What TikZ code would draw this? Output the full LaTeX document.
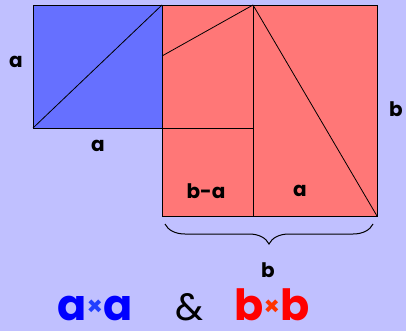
\documentclass[tikz,border=0pt]{standalone}
\usepackage{fontspec}
\setmainfont{Poppins}[BoldFont={* Bold}]
\usetikzlibrary{decorations.pathreplacing}
\definecolor{bg}{HTML}{C0C0FF}
\definecolor{sqblue}{HTML}{6670FF}
\definecolor{sqred}{HTML}{FF7777}
\definecolor{txblue}{HTML}{0000FF}
\definecolor{xblue}{HTML}{2040FF}
\definecolor{txred}{HTML}{FF0000}
\definecolor{xred}{HTML}{FF3300}
\begin{document}
\begin{tikzpicture}[x=1pt,y=-1pt,
  edge/.style={draw=black,line width=0.8pt},
  lbl/.style={font=\fontsize{20}{24}\selectfont\bfseries,inner sep=0pt},
  big/.style={font=\fontsize{43}{48}\selectfont\bfseries,inner sep=0pt}]
\fill[bg] (0,0) rectangle (406,331);
\useasboundingbox (0,0) rectangle (406,331);
% coordinates
\coordinate (A1) at (33,5);
\coordinate (A2) at (162,128);
\coordinate (BL) at (33,128);
\coordinate (AT) at (162,5);
\coordinate (R2) at (377,216);
\coordinate (M) at (253,5);
\coordinate (MB) at (253,216);
\coordinate (MH) at (253,128);
\coordinate (LB) at (162,216);
\coordinate (P) at (162,56);
\coordinate (RT) at (377,5);
% fills
\fill[sqblue] (A1) rectangle (A2);
\fill[sqred] (AT) rectangle (R2);
% outlines
\draw[edge] (A1) rectangle (A2);
\draw[edge] (AT) rectangle (R2);
\draw[edge] (BL) -- (AT);
\draw[edge] (M) -- (MB);
\draw[edge] (A2) -- (MH);
\draw[edge] (P) -- (M);
\draw[edge] (M) -- (R2);
% brace
\coordinate (BR1) at (373,224);
\coordinate (BR2) at (165,224);
\draw[line width=1pt,decorate,decoration={brace,amplitude=20pt}] (BR1) -- (BR2);
% labels
\node[lbl] (la) at (16,62) {a};
\node[lbl] (lab) at (98,146) {a};
\node[lbl] (lb) at (396,109) {b};
\node[lbl] (lba) at (206,191) {b-a};
\node[lbl] (la2) at (300,191) {a};
\node[lbl] (lbb) at (268,270) {b};
% bottom
\node[big,anchor=base] (axa) at (95,320) {\textcolor{txblue}{a}\textcolor{xblue}{\fontsize{26}{30}\selectfont\raisebox{5pt}{×}}\textcolor{txblue}{a}};
\node[big,anchor=base,font=\fontsize{38}{44}\selectfont] (amp) at (190,320) {\&};
\node[big,anchor=base] (bxb) at (272,320) {\textcolor{txred}{b}\textcolor{xred}{\fontsize{26}{30}\selectfont\raisebox{5pt}{×}}\textcolor{txred}{b}};
\end{tikzpicture}
\end{document}
